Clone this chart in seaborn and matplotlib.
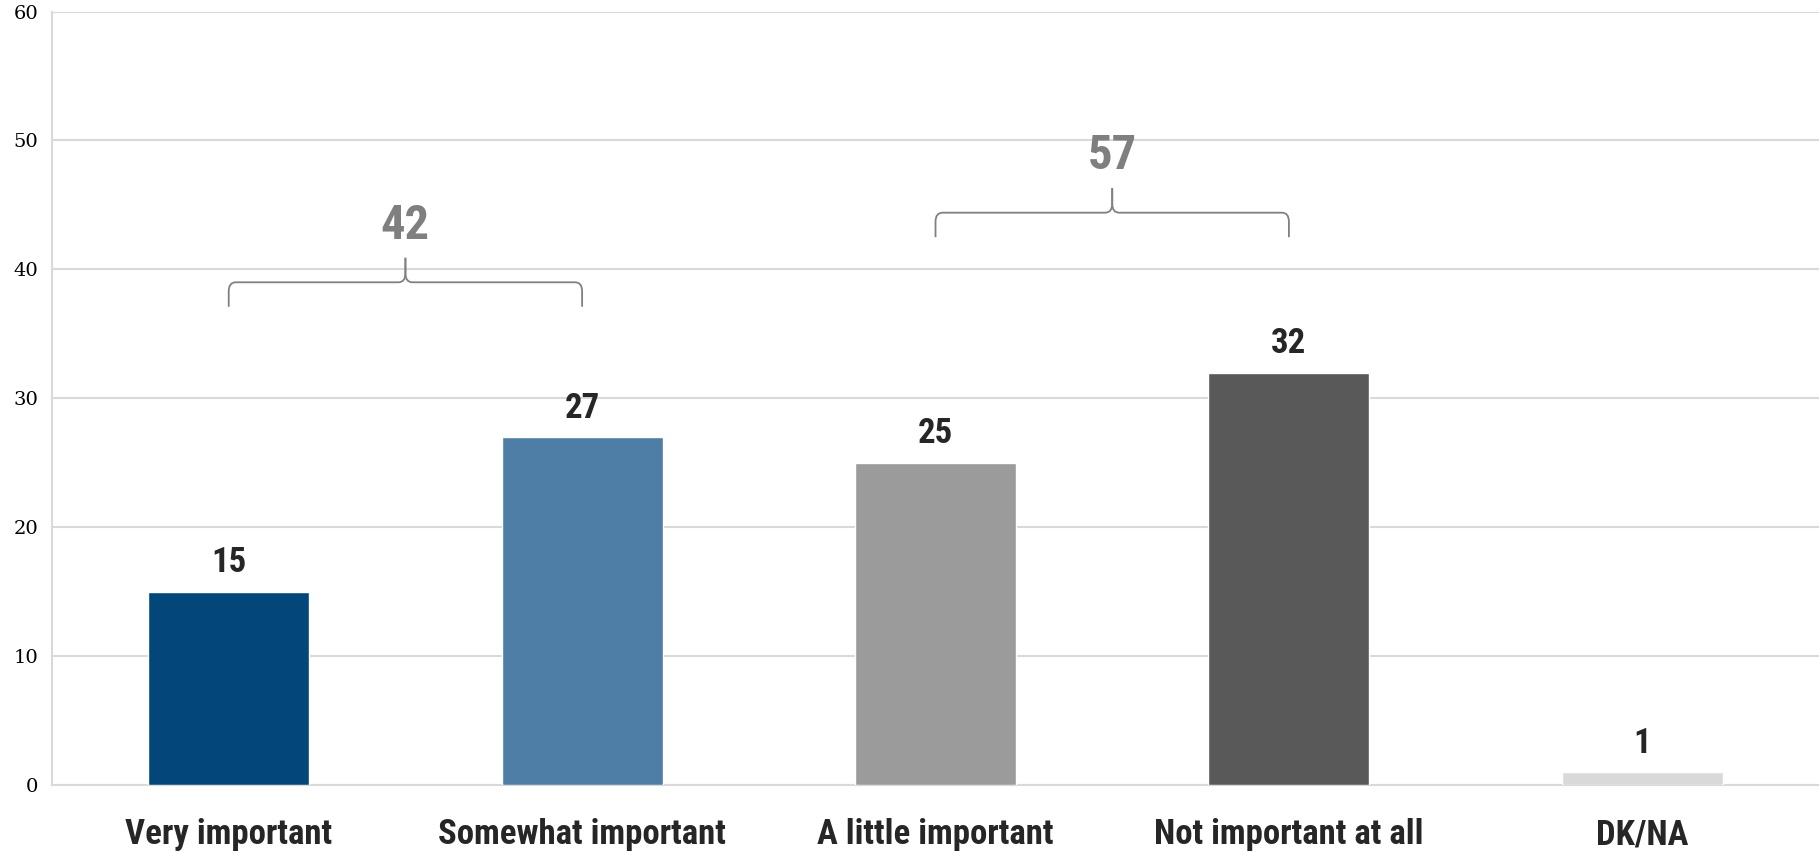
import numpy as np
import pandas as pd
import matplotlib
matplotlib.use("Agg")
import matplotlib.pyplot as plt
from matplotlib.path import Path
from matplotlib.patches import PathPatch
import seaborn as sns

# ==============================
# DATA
# ==============================
categories = ["Very important", "Somewhat important", "A little important",
              "Not important at all", "DK/NA"]
values = [15, 27, 25, 32, 1]
bar_colors = ["#03477A", "#4E7DA5", "#9B9B9B", "#595959", "#D9D9D9"]

# grouped totals shown above the brackets
group_start = [0, 2]
group_end = [1, 3]
group_totals = [42, 57]
group_level = [39.0, 44.4]

yticks = [0, 10, 20, 30, 40, 50, 60]

# ==============================
# STYLE
# ==============================
sns.set_style("white")
bold_font = ["Liberation Sans Narrow", "Arial Narrow", "Roboto Condensed",
             "Open Sans Condensed", "DejaVu Sans"]
serif_font = ["DejaVu Serif"]

df = pd.DataFrame({"cat": categories, "val": values})

fig = plt.figure(figsize=(18.19, 8.52), dpi=100)
ax = fig.add_axes([0.0286, 0.0786, 0.9714, 0.9078])

sns.barplot(data=df, x="cat", y="val", hue="cat", palette=bar_colors,
            width=0.456, legend=False, saturation=1, ax=ax, zorder=3)

ax.set_xlim(-0.5, 4.5)
ax.set_ylim(0, 60)
ax.set_yticks(yticks)
ax.set_yticklabels([str(t) for t in yticks], fontfamily=serif_font,
                   fontsize=14, color="#000000")
ax.set_xlabel("")
ax.set_ylabel("")

# grid + spines
ax.yaxis.grid(True, color="#D9D9D9", linewidth=1.5, zorder=0)
ax.set_axisbelow(True)
for side in ["top", "right"]:
    ax.spines[side].set_visible(False)
for side in ["left", "bottom"]:
    ax.spines[side].set_color("#D9D9D9")
    ax.spines[side].set_linewidth(1.5)

ax.tick_params(axis="y", which="major", length=5, color="#D9D9D9",
               width=1.5, pad=5)
ax.tick_params(axis="x", which="major", length=0, pad=24)
ax.set_xticks(np.arange(-0.5, 5, 1), minor=True)
ax.tick_params(axis="x", which="minor", length=8, color="#D9D9D9", width=1.5)

for lbl in ax.get_xticklabels():
    lbl.set_fontfamily(bold_font)
    lbl.set_fontweight("bold")
    lbl.set_fontsize(25)
    lbl.set_color("#262626")

# value labels
for i, v in enumerate(values):
    ax.annotate(str(v), (i, v), xytext=(0, 14), textcoords="offset points",
                ha="center", va="baseline", fontsize=25, fontweight="bold",
                fontfamily=bold_font, color="#262626")


# curly brackets
def brace(x0, x1, y, drop=1.9, peak=1.9, rx=0.02, ry=0.7):
    xm = (x0 + x1) / 2
    halves = [
        [(x0, y - drop), (x0, y - ry), (x0, y), (x0 + rx, y),
         (xm - rx, y), (xm, y), (xm, y + ry), (xm, y + peak)],
        [(x1, y - drop), (x1, y - ry), (x1, y), (x1 - rx, y),
         (xm + rx, y), (xm, y), (xm, y + ry), (xm, y + peak)],
    ]
    codes = [Path.MOVETO, Path.LINETO, Path.CURVE3, Path.CURVE3,
             Path.LINETO, Path.CURVE3, Path.CURVE3, Path.LINETO]
    for pts in halves:
        ax.add_patch(PathPatch(Path(pts, codes), fill=False,
                               edgecolor="#808080", linewidth=1.3, zorder=4))


for s, e, tot, lvl in zip(group_start, group_end, group_totals, group_level):
    brace(s, e, lvl)
    ax.text((s + e) / 2, lvl + 4.4, str(tot), ha="center", va="center",
            fontsize=35, fontweight="bold", fontfamily=bold_font,
            color="#7F7F7F")

fig.savefig("out.png", dpi=100)
